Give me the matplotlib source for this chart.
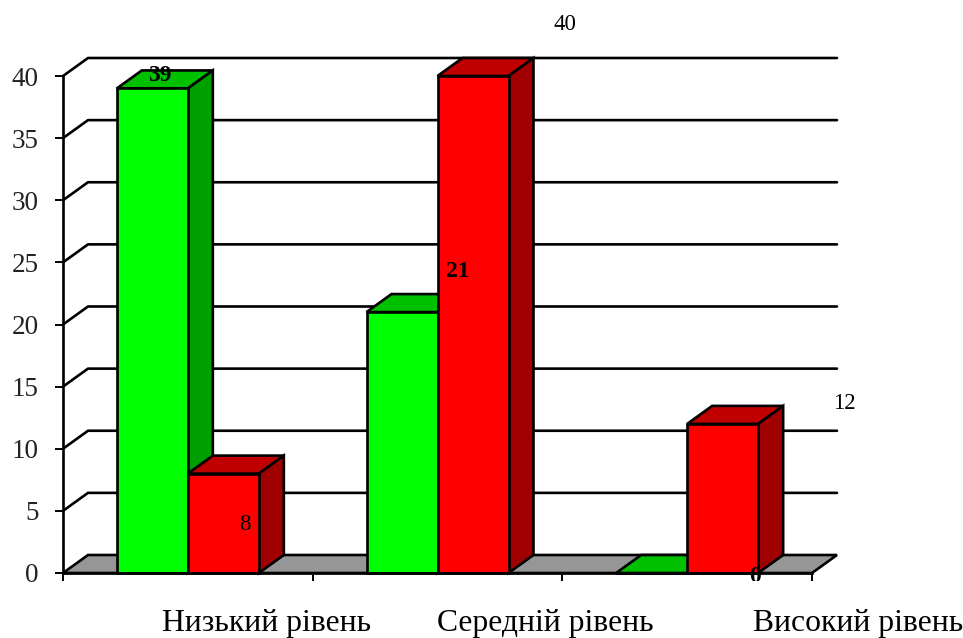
import matplotlib
matplotlib.use('Agg')
import matplotlib.pyplot as plt
from matplotlib.transforms import Bbox

categories = ['Низький рівень', 'Середній рівень', 'Високий рівень']
green_values = [39, 21, 0]
red_values = [8, 40, 12]
y_ticks = [0, 5, 10, 15, 20, 25, 30, 35, 40]

plt.rcParams['font.family'] = ['Liberation Serif', 'DejaVu Serif']

W, H = 963, 638
fig = plt.figure(figsize=(W / 100, H / 100), dpi=100)
ax = fig.add_axes([63 / W, (H - 573) / H, 749 / W, 497 / H])
ax.set_xlim(0, 3)
ax.set_ylim(0, 40)

# the fake 3D depth, 25 px right and 18 px up
dx = 25 / (749 / 3)
dy = 18 / (497 / 40)
bar_w = 71 / (749 / 3)
lw = 1.9

# floor and grid
ax.fill([0, dx, 3 + dx, 3], [0, dy, dy, 0], color='#969696', ec='black', lw=lw,
        zorder=1, clip_on=False)
for t in y_ticks[1:]:
    ax.plot([0, dx, 3 + dx], [t, t + dy, t + dy], color='black', lw=lw, zorder=1,
            clip_on=False, solid_capstyle='round')


def draw_bar(x, v, front, top, side, z):
    ax.bar(x, v, bar_w, align='edge', color=front, edgecolor='black', linewidth=lw,
           zorder=z + 0.2, clip_on=False)
    ax.fill([x, x + dx, x + bar_w + dx, x + bar_w], [v, v + dy, v + dy, v], color=top,
            ec='black', lw=lw, zorder=z, clip_on=False)
    if v > 0:
        ax.fill([x + bar_w, x + bar_w + dx, x + bar_w + dx, x + bar_w],
                [0, dy, v + dy, v], color=side, ec='black', lw=lw, zorder=z,
                clip_on=False)


for i in range(3):
    x0 = i + 0.5 - bar_w
    draw_bar(x0, green_values[i], '#00FF00', '#00C000', '#009F00', 3 + i * 2)
    draw_bar(x0 + bar_w, red_values[i], '#FF0000', '#C00000', '#A00000', 4 + i * 2)

# labels sit far away from the bars in the original, offsets in pixels
green_offsets = [(7, 13), (56, 41), (103, -4)]
red_offsets = [(22, -51), (92, 51), (122, 20)]
for i in range(3):
    x0 = i + 0.5 - bar_w
    ann = ax.annotate(str(green_values[i]), (x0 + bar_w / 2, green_values[i]),
                      xytext=green_offsets[i], textcoords='offset pixels',
                      ha='center', va='center', fontsize=17, fontweight='bold',
                      zorder=20, annotation_clip=False)
    if green_values[i] == 0:
        # the zero is half hidden under the axis in the original
        ann.set_clip_on(True)
        ann.set_clip_box(Bbox([[0, H - 581], [W, H - 566]]))
    ax.annotate(str(red_values[i]), (x0 + bar_w * 1.5, red_values[i]),
                xytext=red_offsets[i], textcoords='offset pixels',
                ha='center', va='center', fontsize=16.5,
                zorder=20, annotation_clip=False)

cat_offsets = [79, 108, 171]
for i, name in enumerate(categories):
    ax.annotate(name, (i + 0.5, 0), xytext=(cat_offsets[i], -50), textcoords='offset pixels',
                ha='center', va='center', fontsize=22.8, annotation_clip=False)

ax.set_xticks([0, 1, 2, 3])
ax.set_xticklabels([])
ax.set_yticks(y_ticks)
ax.tick_params(axis='both', length=5.8, width=1.4, labelsize=19.5, pad=11.5,
               labelcolor='#222222')
ax.spines['top'].set_visible(False)
ax.spines['right'].set_visible(False)
ax.spines['left'].set_linewidth(lw)
ax.spines['bottom'].set_linewidth(lw)
ax.spines['bottom'].set_zorder(15)
ax.patch.set_alpha(0)

fig.savefig('out.png', dpi=100)
